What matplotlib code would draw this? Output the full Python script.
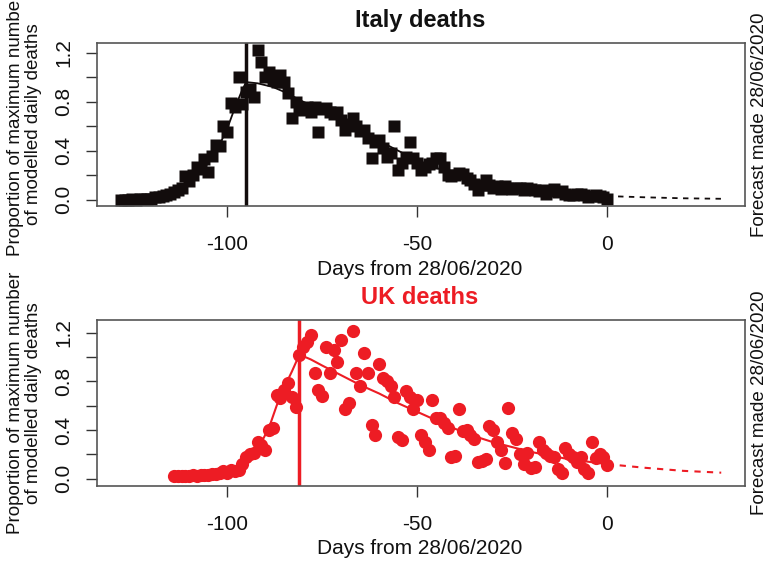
import numpy as np
import matplotlib.pyplot as plt

plt.rcParams['font.family'] = ['Liberation Sans', 'DejaVu Sans']
plt.rcParams['axes.unicode_minus'] = False

RED = "#ED1C24"
DARK = "#120C0C"

# Italy: observed daily deaths (proportion of max modelled), days -128..0
italy_days = np.arange(-128, 1)
italy_obs = [
    0.0, 0.0, 0.0, 0.01, 0.0, 0.01, 0.01, 0.01, 0.01, 0.02,
    0.02, 0.03, 0.04, 0.05, 0.06, 0.08, 0.10, 0.19, 0.15, 0.20,
    0.27, 0.25, 0.33, 0.23, 0.36, 0.45, 0.44, 0.60, 0.55, 0.79,
    0.76, 1.00, 0.78, 0.88, 0.90, 0.84, 1.22, 1.12, 1.00, 1.04,
    0.98, 0.96, 1.02, 0.96, 0.87, 0.67, 0.80, 0.74, 0.73, 0.76,
    0.72, 0.76, 0.55, 0.74, 0.75, 0.72, 0.70, 0.72, 0.65, 0.57,
    0.62, 0.67, 0.60, 0.56, 0.57, 0.50, 0.34, 0.47, 0.49, 0.42,
    0.35, 0.38, 0.60, 0.24, 0.30, 0.35, 0.47, 0.34, 0.30, 0.24,
    0.27, 0.29, 0.30, 0.34, 0.34, 0.27, 0.20, 0.19, 0.20, 0.22,
    0.21, 0.18, 0.16, 0.13, 0.08, 0.12, 0.16, 0.12, 0.10, 0.11,
    0.09, 0.11, 0.10, 0.09, 0.10, 0.10, 0.08, 0.10, 0.09, 0.08,
    0.07, 0.08, 0.05, 0.07, 0.09, 0.06, 0.07, 0.05, 0.04, 0.04,
    0.05, 0.05, 0.04, 0.02, 0.03, 0.04, 0.03, 0.02, 0.01,
]
italy_fit_days = [-128, -120, -115, -110, -105, -102, -100, -98, -96, -95,
                  -92, -88, -85, -80, -75, -70, -65, -60, -55, -50,
                  -45, -40, -35, -30, -25, -20, -15, -10, -5, 0]
italy_fit = [0.0, 0.01, 0.04, 0.12, 0.30, 0.45, 0.58, 0.75, 0.90, 0.96,
             0.95, 0.92, 0.88, 0.80, 0.73, 0.66, 0.57, 0.48, 0.40, 0.32,
             0.26, 0.21, 0.16, 0.13, 0.10, 0.08, 0.06, 0.05, 0.04, 0.03]
italy_fc_days = [0, 10, 20, 30]
italy_fc = [0.03, 0.02, 0.012, 0.008]
italy_peak = -95

# UK: days -114..0
uk_days = np.arange(-114, 1)
uk_obs = [
    0.02, 0.02, 0.02, 0.02, 0.02, 0.03, 0.02, 0.03, 0.03, 0.03,
    0.04, 0.04, 0.05, 0.06, 0.05, 0.07, 0.06, 0.07, 0.12, 0.18,
    0.20, 0.21, 0.30, 0.28, 0.24, 0.40, 0.42, 0.69, 0.66, 0.73,
    0.79, 0.67, 0.59, 1.02, 1.08, 1.12, 1.18, 0.87, 0.73, 0.68,
    1.08, 0.87, 1.06, 0.96, 1.14, 0.57, 0.62, 1.21, 0.87, 0.76,
    1.03, 0.87, 0.44, 0.36, 0.94, 0.83, 0.80, 0.76, 0.67, 0.34,
    0.32, 0.72, 0.67, 0.57, 0.65, 0.36, 0.30, 0.24, 0.65, 0.50,
    0.50, 0.46, 0.42, 0.18, 0.19, 0.57, 0.39, 0.40, 0.36, 0.33,
    0.14, 0.15, 0.16, 0.43, 0.40, 0.30, 0.24, 0.13, 0.58, 0.38,
    0.33, 0.20, 0.12, 0.21, 0.09, 0.10, 0.30, 0.24, 0.21, 0.19,
    0.18, 0.08, 0.05, 0.25, 0.20, 0.18, 0.14, 0.18, 0.08, 0.05,
    0.30, 0.17, 0.20, 0.18, 0.11,
]
uk_fit_days = [-114, -110, -105, -100, -97, -94, -91, -89, -87, -85, -83, -81,
               -78, -75, -70, -65, -60, -55, -50, -45, -40, -35, -30, -25,
               -20, -15, -10, -5, 0]
uk_fit = [0.01, 0.015, 0.025, 0.04, 0.07, 0.17, 0.30, 0.42, 0.60, 0.75, 0.88, 1.02,
          0.98, 0.93, 0.85, 0.77, 0.70, 0.62, 0.55, 0.48, 0.41, 0.35, 0.30, 0.26,
          0.22, 0.19, 0.16, 0.14, 0.12]
uk_fc_days = [0, 10, 20, 30]
uk_fc = [0.12, 0.09, 0.065, 0.05]
uk_peak = -81

fig = plt.figure(figsize=(7.69, 5.61), dpi=100)
ax1 = fig.add_axes([0.126, 0.633, 0.843, 0.2906])
ax2 = fig.add_axes([0.126, 0.134, 0.843, 0.296])


def style(ax, ylim):
    ax.set_xlim(-134.3, 36.3)
    ax.set_ylim(*ylim)
    ax.set_xticks([-100, -50, 0])
    ax.set_yticks([0, 0.2, 0.4, 0.6, 0.8, 1.0, 1.2])
    ax.set_yticklabels(["0.0", "", "0.4", "", "0.8", "", "1.2"],
                       rotation=90, va="center")
    ax.tick_params(axis="x", length=8, width=1, colors="#333333",
                   labelsize=15, pad=13, labelcolor="#111111")
    ax.tick_params(axis="y", length=8, width=1, colors="#333333",
                   labelsize=15, pad=9, labelcolor="#111111")
    for s in ax.spines.values():
        s.set_color("#555555")
        s.set_linewidth(1.2)


ax1.plot(italy_days, italy_obs, "s", color=DARK, ms=8.5, mec="none")
ax1.plot(italy_fit_days, italy_fit, color=DARK, lw=1.3)
ax1.plot(italy_fc_days, italy_fc, color=DARK, lw=1.3, ls=(0, (3, 3)))
ax1.axvline(italy_peak, color=DARK, lw=2.5)
style(ax1, (-0.05, 1.28))

ax2.plot(uk_days, uk_obs, "o", color=RED, ms=9.5, mec="none")
ax2.plot(uk_fit_days, uk_fit, color=RED, lw=1.5)
ax2.plot(uk_fc_days, uk_fc, color=RED, lw=1.5, ls=(0, (3, 3)))
ax2.axvline(uk_peak, color=RED, lw=2.5)
style(ax2, (-0.058, 1.306))

fig.text(0.546, 0.964, "Italy deaths", ha="center", va="center",
         fontsize=17, fontweight="bold", color="#111111")
fig.text(0.546, 0.469, "UK deaths", ha="center", va="center",
         fontsize=17, fontweight="bold", color=RED)
fig.text(0.546, 0.519, "Days from 28/06/2020", ha="center", va="center",
         fontsize=15, color="#111111")
fig.text(0.546, 0.023, "Days from 28/06/2020", ha="center", va="center",
         fontsize=15, color="#111111")

ylab = "Proportion of maximum number\nof modelled daily deaths"
for ax in (ax1, ax2):
    pos = ax.get_position()
    yc = (pos.y0 + pos.y1) / 2
    fig.text(0.032, yc, ylab, rotation=90, ha="center", va="center",
             fontsize=13.5, linespacing=1.1, color="#111111")
    fig.text(0.987, yc, "Forecast made 28/06/2020", rotation=90,
             ha="center", va="center", fontsize=13.5, color="#111111")

fig.savefig("out.png", dpi=100)
